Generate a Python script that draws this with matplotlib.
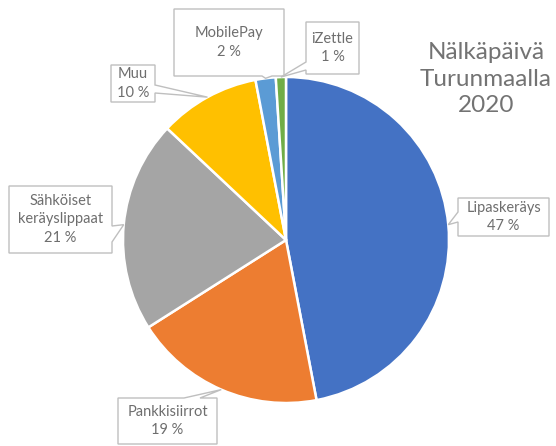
import matplotlib
matplotlib.use("Agg")
import matplotlib.pyplot as plt
from matplotlib.patches import Polygon
import numpy as np

plt.rcParams['font.family'] = ['Lato', 'DejaVu Sans']

# ---- data ----
categories = ["Lipaskeräys", "Pankkisiirrot", "Sähköiset\nkeräyslippaat", "Muu", "MobilePay", "iZettle"]
values = [47, 19, 21, 10, 2, 1]
pct_labels = ["47 %", "19 %", "21 %", "10 %", "2 %", "1 %"]
colors = ["#4472C4", "#ED7D31", "#A5A5A5", "#FFC000", "#5B9BD5", "#70AD47"]
title_lines = ["Nälkäpäivä", "Turunmaalla", "2020"]

W, H = 556, 446
fig = plt.figure(figsize=(W / 100, H / 100), dpi=100)

# pie axes: centre (286,240) px, radius 163 px
cx, cy, r = 286, 240, 163
ax = fig.add_axes([(cx - r) / W, (H - cy - r) / H, 2 * r / W, 2 * r / H])
wedges, _ = ax.pie(values, colors=colors, startangle=90, counterclock=False,
                   radius=1.0, wedgeprops=dict(edgecolor="white", linewidth=1.8))
ax.set_xlim(-1, 1)
ax.set_ylim(-1, 1)
ax.set_aspect("auto")
ax.axis("off")

# overlay in pixel coordinates (y downwards)
ov = fig.add_axes([0, 0, 1, 1], zorder=5)
ov.set_xlim(0, W)
ov.set_ylim(H, 0)
ov.axis("off")
ov.patch.set_alpha(0)

def tip_of(w):
    ang = np.deg2rad((w.theta1 + w.theta2) / 2)
    disp = ax.transData.transform((np.cos(ang), np.sin(ang)))
    return ov.transData.inverted().transform(disp)

# label layout: box (x0,y0,x1,y1) px, side, base (a,b)
layout = [
    ((458, 198, 549, 236), "left", (212, 222)),
    ((118, 398, 217, 444), "top", (184, 200)),
    ((9, 186, 112, 253), "right", (226, 242)),
    ((111, 65, 155, 102), "right", (85, 93)),
    ((174, 9, 284, 76), "bottom", (262, 272)),
    ((306, 22, 359, 74), "left", (62, 70)),
]

for w, cat, pct, (box, side, (a, b)) in zip(wedges, categories, pct_labels, layout):
    x0, y0, x1, y1 = box
    tx, ty = tip_of(w)
    if side == "left":
        pts = [(x0, y0), (x1, y0), (x1, y1), (x0, y1), (x0, b), (tx, ty), (x0, a)]
    elif side == "right":
        pts = [(x0, y0), (x1, y0), (x1, a), (tx, ty), (x1, b), (x1, y1), (x0, y1)]
    elif side == "top":
        pts = [(x0, y0), (a, y0), (tx, ty), (b, y0), (x1, y0), (x1, y1), (x0, y1)]
    else:
        pts = [(x0, y0), (x1, y0), (x1, y1), (b, y1), (tx, ty), (a, y1), (x0, y1)]
    ov.add_patch(Polygon(pts, closed=True, facecolor="white", edgecolor="#BFBFBF",
                         linewidth=1.0, joinstyle="miter"))
    ov.text((x0 + x1) / 2, (y0 + y1) / 2, cat + "\n" + pct, ha="center", va="center",
            fontsize=10.5, color="#6E6E6E", linespacing=1.45)

ov.text(486, 79, "\n".join(title_lines), ha="center", va="center",
        fontsize=17.5, color="#737373", linespacing=1.35)

fig.savefig("out.png", dpi=100, facecolor="white")
